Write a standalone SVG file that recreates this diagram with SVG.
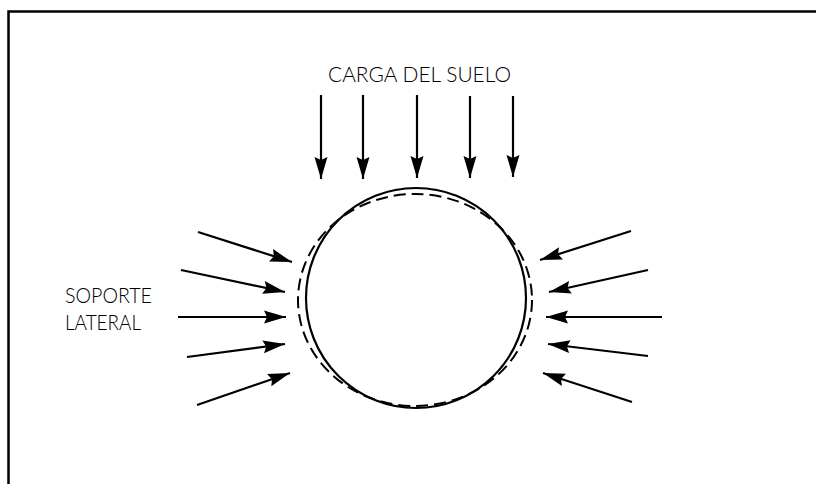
<svg xmlns="http://www.w3.org/2000/svg" width="816" height="484" viewBox="0 0 816 484">
<defs>
<style>
.lbl{font-family:"Lato","Liberation Sans",sans-serif;font-weight:300;font-size:21px;fill:#000}
.arr{stroke:#000;stroke-width:2.2;fill:none;marker-end:url(#ah)}
</style>
<marker id="ah" markerUnits="userSpaceOnUse" markerWidth="26" markerHeight="16" viewBox="-24 -8 26 16" refX="0" refY="0" orient="auto">
<path d="M0,0 L-22,-6.5 L-19,0 L-22,6.5 Z" fill="#000"/>
</marker>
</defs>
<rect width="816" height="484" fill="#fff"/>
<path d="M8.5,484 V11.5 H816" fill="none" stroke="#000" stroke-width="2.5"/>
<g id="pipe">
<circle cx="416" cy="298" r="110" fill="none" stroke="#000" stroke-width="2.2"/>
<ellipse cx="415" cy="300" rx="117" ry="106" fill="none" stroke="#000" stroke-width="2" stroke-dasharray="12 6"/>
</g>
<g id="label-carga"><text class="lbl" x="328" y="82" textLength="183" lengthAdjust="spacingAndGlyphs">CARGA DEL SUELO</text></g>
<g id="label-soporte"><text class="lbl" x="65" y="303" textLength="87" lengthAdjust="spacingAndGlyphs">SOPORTE</text><text class="lbl" x="65" y="330" textLength="76" lengthAdjust="spacingAndGlyphs">LATERAL</text></g>
<g id="connectors">
<line class="arr" x1="321" y1="95" x2="321" y2="179"/>
<line class="arr" x1="363" y1="95" x2="363" y2="179"/>
<line class="arr" x1="417" y1="95" x2="417" y2="178"/>
<line class="arr" x1="470" y1="96" x2="470" y2="178"/>
<line class="arr" x1="513" y1="96" x2="513" y2="177"/>
<line class="arr" x1="198" y1="232" x2="292" y2="262"/>
<line class="arr" x1="181" y1="270" x2="285" y2="292"/>
<line class="arr" x1="178" y1="317" x2="286" y2="317"/>
<line class="arr" x1="187" y1="357" x2="285" y2="344"/>
<line class="arr" x1="197" y1="405" x2="290" y2="373"/>
<line class="arr" x1="631" y1="231" x2="540" y2="260"/>
<line class="arr" x1="648" y1="270" x2="549" y2="292"/>
<line class="arr" x1="662" y1="317" x2="546" y2="317"/>
<line class="arr" x1="648" y1="356" x2="548" y2="344"/>
<line class="arr" x1="632" y1="402" x2="543" y2="373"/>
</g>
</svg>
